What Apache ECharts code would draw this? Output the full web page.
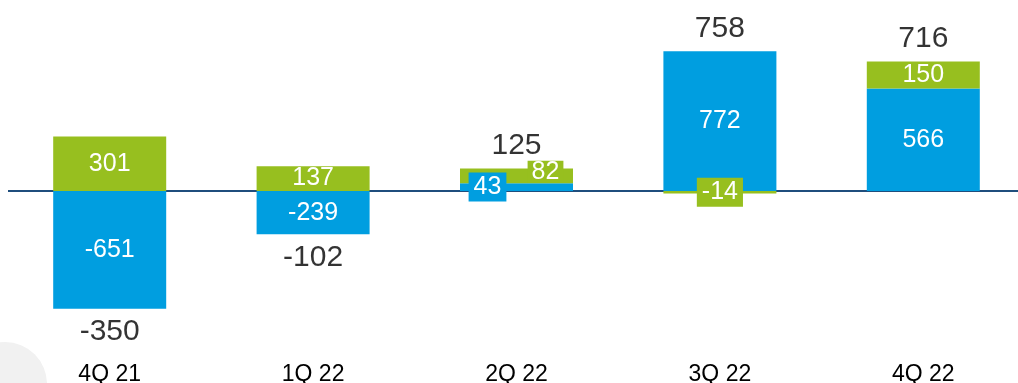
<!DOCTYPE html>
<html>
<head>
<meta charset="utf-8">
<script src="https://cdn.jsdelivr.net/npm/echarts@6/dist/echarts.min.js"></script>
<style>
html,body{margin:0;padding:0;background:#fff;overflow:hidden;}
#c{width:1018px;height:383px;}
</style>
</head>
<body>
<div id="c"></div>
<script>
const categories = ['4Q 21', '1Q 22', '2Q 22', '3Q 22', '4Q 22'];
const blueValues = [-651, -239, 43, 772, 566];
const greenValues = [301, 137, 82, -14, 150];
const totals = [-350, -102, 125, 758, 716];

const BLUE = '#009ee0';
const GREEN = '#97bf1f';
const FONT = 'Liberation Sans, Arial, sans-serif';

// label tweaks for the small segments (style only)
const blueLabelExtra = {2: {offset: [-29, 0], backgroundColor: BLUE, padding: [2, 5], lineHeight: 25}};
const greenLabelExtra = {
  2: {offset: [29, -4], backgroundColor: GREEN, padding: [0, 4], lineHeight: 22},
  3: {offset: [0, 0], backgroundColor: GREEN, padding: [2, 5], lineHeight: 25}
};

function mkData(vals, extra) {
  return vals.map((v, i) => extra[i] ? {value: v, label: extra[i]} : v);
}

const anchors = totals.map((t, i) => {
  const pos = Math.max(blueValues[i], 0) + Math.max(greenValues[i], 0);
  const neg = Math.min(blueValues[i], 0) + Math.min(greenValues[i], 0);
  return t >= 0 ? pos : neg;
});

const chart = echarts.init(document.getElementById('c'));
chart.setOption({
  animation: false,
  backgroundColor: '#fff',
  graphic: [{
    type: 'circle', shape: {cx: 5, cy: 384, r: 42},
    style: {fill: '#f1f1f1'}, z: -10, silent: true
  }],
  grid: {left: 8, top: 10, width: 1017, height: 362, outerBoundsMode: 'none', containLabel: false},
  xAxis: {
    type: 'category', data: categories,
    axisLine: {show: false}, axisTick: {show: false},
    axisLabel: {color: '#000', fontSize: 23, fontFamily: FONT, margin: -9}
  },
  yAxis: {
    type: 'value', min: -1000, max: 1000, show: false,
    splitLine: {show: false}
  },
  series: [
    {
      type: 'line', name: 'zero', data: [], silent: true, z: 2,
      markLine: {
        silent: true, symbol: 'none', label: {show: false}, z: 2,
        lineStyle: {color: '#1f4e7d', width: 2, type: 'solid'},
        data: [{yAxis: 0}]
      }
    },
    {
      type: 'bar', name: 'blue', stack: 'a', barWidth: 113, z: 2,
      itemStyle: {color: BLUE},
      data: mkData(blueValues, blueLabelExtra),
      label: {show: true, position: 'inside', color: '#fff', fontSize: 25, fontFamily: FONT}
    },
    {
      type: 'bar', name: 'green', stack: 'a', barWidth: 113, z: 2,
      itemStyle: {color: GREEN},
      data: mkData(greenValues, greenLabelExtra),
      label: {show: true, position: 'inside', color: '#fff', fontSize: 25, fontFamily: FONT}
    },
    {
      type: 'scatter', symbolSize: 0,
      data: anchors.map((a, i) => ({
        value: a,
        label: {position: totals[i] >= 0 ? 'top' : 'bottom'}
      })),
      label: {
        show: true, distance: 8, color: '#000', fontSize: 30, fontFamily: FONT,
        formatter: p => String(totals[p.dataIndex])
      },
      z: 5
    }
  ]
});
</script>
</body>
</html>
